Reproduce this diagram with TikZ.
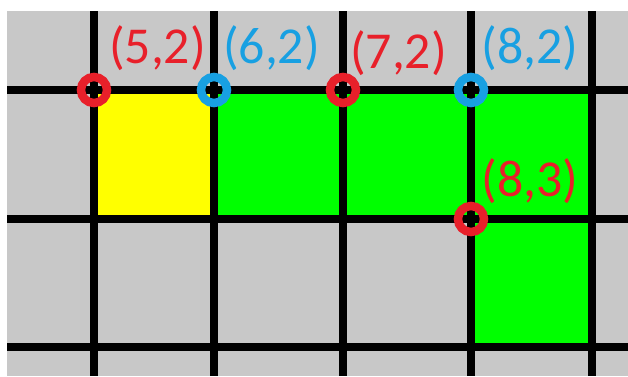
\documentclass[tikz,border=0pt]{standalone}
\usepackage{fontspec}
\setmainfont{Carlito}
\definecolor{gridgray}{RGB}{200,200,200}
\definecolor{cellyellow}{RGB}{255,255,0}
\definecolor{cellgreen}{RGB}{0,255,0}
\definecolor{mred}{RGB}{232,32,42}
\definecolor{mblue}{RGB}{24,160,226}
\begin{document}
\begin{tikzpicture}[x=1bp,y=-1bp,
  gridline/.style={line width=8bp,black},
  marker/.style={circle,draw,line width=8.5bp,minimum size=26bp,inner sep=0pt,fill=none},
  redmark/.style={marker,draw=mred},
  bluemark/.style={marker,draw=mblue},
  lbl/.style={font=\fontsize{52}{52}\selectfont,inner sep=0pt},
  redlbl/.style={lbl,text=mred},
  bluelbl/.style={lbl,text=mblue}]
\useasboundingbox (0,0) rectangle (628,376);
\fill[white] (0,0) rectangle (628,376);
\fill[gridgray] (7,11) rectangle (628,376);
% cells
\fill[cellyellow] (94,90) rectangle (214,219);
\fill[cellgreen] (214,90) rectangle (471,219);
\fill[cellgreen] (471,90) rectangle (592,347);
% grid
\foreach \x in {94,214,343,471,592} \draw[gridline] (\x,11) -- (\x,376);
\foreach \y in {90,219,347} \draw[gridline] (7,\y) -- (628,\y);
% markers
\node[redmark] (m52) at (94,90) {};
\node[bluemark] (m62) at (214,90) {};
\node[redmark] (m72) at (343,90) {};
\node[bluemark] (m82) at (471,90) {};
\node[redmark] (m83) at (471,219) {};
% labels
\node[redlbl] (l52) at (157.5,48.5) {(5,2)};
\node[bluelbl] (l62) at (271.5,48.5) {(6,2)};
\node[redlbl] (l72) at (398.5,53) {(7,2)};
\node[bluelbl] (l82) at (530,48.5) {(8,2)};
\node[redlbl] (l83) at (530,181.5) {(8,3)};
\end{tikzpicture}
\end{document}
